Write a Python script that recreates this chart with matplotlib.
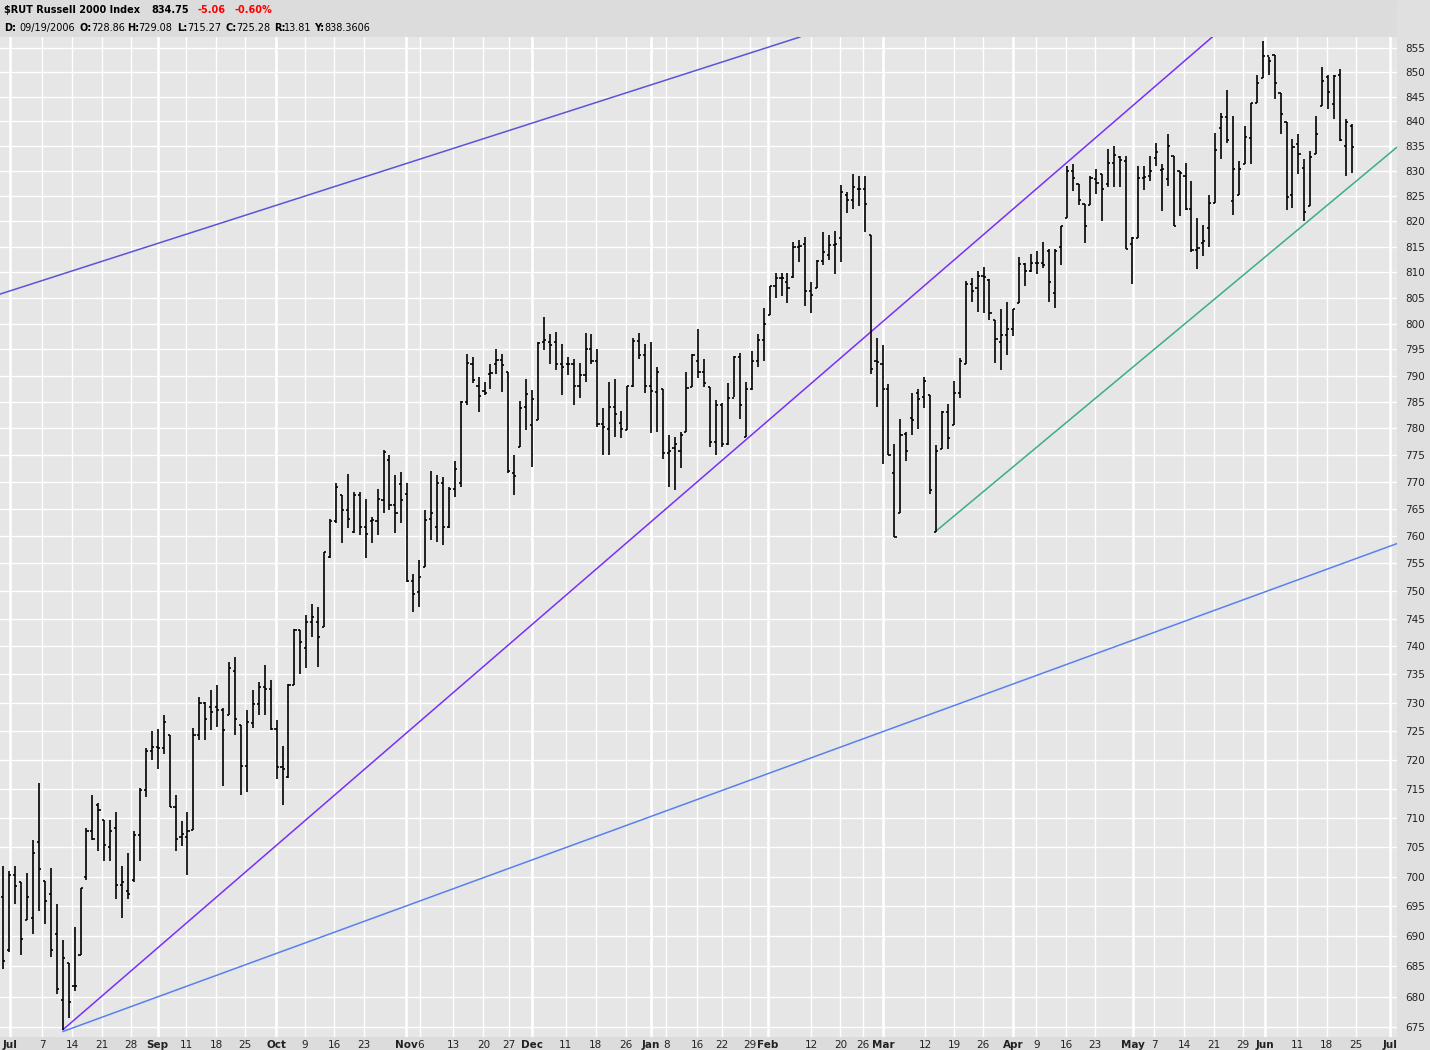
import matplotlib
matplotlib.use("Agg")
import matplotlib.pyplot as plt
from matplotlib.ticker import FixedLocator, FixedFormatter, NullLocator

# ---------------- data (daily OHLC, Jul 2006 - Jun 2007) ----------------
opens = [696.6,687.7,700.3,699.0,692.7,693.1,705.8,699.3,697.0,690.4,679.5,685.5,681.8,686.8,699.9,707.7,712.2,709.6,705.0,708.2,
         698.5,697.5,699.4,707.1,714.7,721.6,722.2,722.1,724.4,711.8,706.7,706.7,707.9,724.4,730.0,729.3,729.3,728.7,727.9,735.6,
         726.1,719.0,726.5,729.8,732.8,732.5,725.4,718.8,717.1,733.2,742.9,739.7,744.3,744.3,743.5,756.2,762.7,767.5,764.7,760.7,
         767.5,761.7,762.7,762.7,766.7,774.1,765.7,769.5,767.7,751.8,749.7,754.4,763.2,761.7,769.7,761.7,768.7,769.7,784.9,792.2,
         788.1,787.1,790.4,792.2,793.0,790.7,771.6,776.5,784.1,780.6,781.5,796.4,796.4,796.4,792.2,792.2,792.2,788.1,790.2,795.1,
         792.8,780.9,779.9,784.1,781.1,779.7,788.1,796.7,794.0,788.1,786.8,787.5,775.3,776.3,775.8,779.4,787.8,792.8,790.7,787.8,
         777.5,784.5,777.1,785.8,793.5,778.4,787.5,792.8,796.8,801.6,807.3,808.8,808.0,809.0,815.0,815.5,806.3,806.9,812.1,813.3,
         815.3,816.6,825.3,824.2,826.4,826.5,817.3,792.7,792.2,787.5,771.7,764.2,778.9,781.9,786.6,785.9,786.3,760.8,776.2,783.0,
         780.6,786.6,792.2,807.6,806.9,809.3,808.5,800.7,796.4,797.7,799.0,803.9,811.5,810.2,811.7,811.8,814.2,806.0,814.9,820.7,
         830.0,827.4,823.5,823.2,828.5,829.5,827.4,831.7,832.8,832.0,815.5,816.6,828.6,829.0,832.7,830.3,828.4,833.0,830.0,829.0,
         822.5,814.3,815.8,818.6,823.7,838.6,840.8,824.1,825.3,831.4,836.6,843.8,848.8,853.3,853.5,845.8,839.8,825.3,835.5,830.7,
         823.0,833.4,843.1,849.0,843.5,849.4,835.0,839.0]
highs = [701.8,700.9,701.8,699.0,700.6,706.2,716.0,699.3,701.4,695.3,689.4,685.6,691.6,698.0,708.2,713.9,712.6,709.7,709.6,711.0,
         701.8,704.0,707.7,715.2,722.0,725.0,725.3,727.8,724.4,713.9,709.4,711.0,725.5,731.1,730.2,732.2,733.1,729.0,737.2,738.1,
         726.1,728.7,732.2,733.7,736.6,734.1,727.0,722.4,733.4,743.2,742.9,745.6,747.7,747.1,757.1,763.2,769.7,767.5,771.5,768.1,
         768.1,766.9,763.5,768.7,775.9,775.0,771.2,771.8,769.7,753.1,755.6,764.7,772.1,771.2,770.9,769.1,773.8,785.1,794.1,793.5,
         789.7,788.8,792.2,795.1,794.1,790.7,775.0,785.1,789.4,787.2,796.4,801.2,797.9,798.3,796.1,793.5,793.2,792.5,798.2,797.9,
         795.1,783.8,788.7,789.4,783.3,788.1,797.3,798.2,796.1,796.4,791.6,787.5,778.8,778.4,779.4,790.7,794.1,798.9,793.1,787.8,
         785.4,784.8,788.5,793.8,794.4,788.7,794.7,797.9,803.0,807.3,809.9,809.9,809.9,815.9,816.2,816.8,808.0,812.3,817.8,817.2,
         818.1,827.2,825.9,829.5,829.0,829.0,817.3,797.3,795.8,788.4,777.1,781.8,779.4,786.6,787.5,789.7,786.3,776.8,783.3,784.6,
         789.0,793.4,808.3,808.9,810.3,810.9,808.7,800.7,802.8,804.1,802.8,812.9,811.7,813.6,814.2,815.9,814.5,814.5,819.0,831.1,
         831.4,827.5,823.5,829.0,830.5,829.5,834.4,835.0,833.0,833.0,816.9,831.0,831.0,833.0,835.7,831.4,837.4,833.0,830.0,831.7,
         828.0,820.6,819.3,825.3,837.7,841.8,846.3,841.1,832.0,839.1,843.8,849.5,856.5,853.2,853.5,845.8,839.8,836.4,837.4,832.4,
         834.1,841.1,851.2,849.5,849.5,850.8,840.4,839.4]
lows = [684.5,687.3,695.3,686.8,692.7,690.4,694.2,692.0,686.5,680.4,674.5,676.5,681.0,686.8,699.4,706.2,704.3,702.6,702.6,696.2,
        693.1,696.2,699.0,702.6,713.6,720.0,718.5,721.0,711.9,704.3,705.1,700.3,707.9,723.5,723.5,725.2,725.8,715.4,727.9,724.4,
        713.9,714.5,725.5,727.9,727.9,725.2,716.6,712.2,716.9,733.1,735.1,736.1,741.7,736.4,743.5,755.9,762.3,758.7,761.4,760.5,
        760.2,755.9,758.7,760.2,764.2,764.7,760.5,762.3,751.6,746.2,747.1,754.4,759.3,758.9,758.3,761.4,767.2,769.1,784.5,788.5,
        783.1,786.3,787.5,790.4,786.9,771.6,767.5,776.5,779.7,772.8,781.5,794.9,792.2,791.0,786.3,790.2,784.5,785.7,788.8,792.2,
        780.3,775.0,775.0,778.4,778.1,779.7,787.8,793.1,786.6,779.1,779.4,774.3,769.1,768.4,772.5,779.4,787.8,789.5,787.8,776.5,
        775.0,776.5,776.8,786.0,781.8,778.4,787.2,791.6,792.8,801.6,805.0,805.3,804.0,808.9,812.0,803.3,802.0,806.8,811.4,812.3,
        809.7,812.0,821.7,822.5,823.1,817.9,790.4,784.1,773.4,775.0,759.8,764.2,773.8,778.7,779.9,783.9,767.8,760.8,776.2,776.2,
        780.6,785.7,792.2,804.2,802.3,802.0,800.6,792.5,791.0,794.0,797.6,803.9,807.3,810.0,809.7,810.7,804.2,803.0,811.4,820.7,
        826.1,823.2,815.7,823.2,825.4,820.0,826.9,826.9,826.9,814.6,807.6,816.6,826.3,828.0,831.0,822.0,827.0,819.0,821.0,822.3,
        814.0,810.6,813.2,814.9,823.7,832.4,835.7,821.3,825.3,831.4,831.4,843.8,848.8,849.5,844.5,837.4,822.3,822.6,829.4,820.0,
        823.0,833.4,843.1,842.5,840.4,836.0,829.0,829.7]
closes = [685.9,700.3,698.4,689.6,696.6,704.0,701.3,695.9,687.7,681.2,686.4,679.1,681.8,698.0,707.7,706.4,711.4,705.3,707.7,698.5,
          699.0,697.0,707.1,714.7,721.6,722.2,722.1,726.7,711.9,706.3,707.3,707.7,724.4,730.0,727.2,728.4,728.7,725.2,736.2,727.1,
          718.9,726.7,729.8,732.8,732.5,725.4,718.8,718.4,733.1,742.9,740.8,744.3,745.3,741.6,757.1,762.7,769.1,764.7,763.2,767.5,
          761.7,760.3,762.9,766.9,775.6,765.7,764.3,766.7,751.8,749.5,752.5,763.0,764.2,769.7,761.7,768.7,772.3,784.9,792.5,789.1,
          786.1,786.6,790.5,793.0,792.0,772.1,771.1,783.9,786.5,785.5,796.2,796.9,795.9,792.2,791.7,792.2,788.1,790.2,795.1,792.8,
          780.9,780.2,784.1,782.8,779.9,788.1,796.7,794.0,788.1,787.1,790.7,775.3,775.8,777.0,778.7,787.6,794.0,790.7,788.5,777.5,
          784.5,777.1,785.8,793.5,784.4,787.5,792.8,796.8,799.9,807.3,808.8,808.8,806.8,815.0,815.1,806.3,805.6,812.1,814.0,815.3,
          815.5,825.8,824.3,826.8,826.5,823.4,791.2,792.6,787.5,775.0,759.8,778.7,775.7,781.5,785.6,788.9,768.4,775.7,783.0,778.2,
          786.6,792.7,807.6,806.3,809.3,809.0,802.1,797.0,797.7,799.0,802.8,811.5,810.2,811.7,811.8,811.3,808.0,814.2,819.0,830.0,
          828.7,824.2,819.0,828.7,827.6,826.4,831.7,833.3,832.3,814.6,816.6,828.6,828.9,830.0,833.8,830.5,835.0,819.1,829.6,822.5,
          814.3,814.8,816.0,823.7,834.3,841.0,836.2,830.5,830.4,836.9,843.8,847.9,853.4,852.3,847.9,841.5,824.8,834.9,833.4,821.8,
          832.8,837.4,848.2,846.0,849.2,836.3,839.8,834.8]

# trend lines: (bar index, price) endpoints
line_steep = [(10.05, 674.6), (203.5, 857.3)]
line_upper = [(-0.56, 805.7), (134.1, 857.3)]
line_lower = [(10.05, 674.3), (234.6, 758.6)]
line_green = [(157.0, 760.9), (234.6, 834.8)]

# x-axis labels (position in bar units, label)
xt_pos = [1.1, 6.5, 11.6, 16.6, 21.5, 26.0, 30.8, 35.8, 40.7, 45.9, 50.8, 55.7, 60.7, 67.8, 70.2, 75.7, 80.8, 85.1,
          89.0, 94.7, 99.7, 104.8, 109.0, 111.6, 116.8, 121.0, 125.7, 128.7, 136.0, 140.9, 144.7, 148.1, 155.2, 160.1,
          164.9, 170.0, 173.9, 178.9, 183.8, 190.2, 193.7, 198.8, 203.8, 208.7, 212.4, 217.8, 222.8, 227.7, 233.5]
xt_lab = ["Jul", "7", "14", "21", "28", "Sep", "11", "18", "25", "Oct", "9", "16", "23", "Nov", "6", "13", "20", "27",
          "Dec", "11", "18", "26", "Jan", "8", "16", "22", "29", "Feb", "12", "20", "26", "Mar", "12", "19",
          "26", "Apr", "9", "16", "23", "May", "7", "14", "21", "29", "Jun", "11", "18", "25", "Jul"]
months = {"Jul", "Sep", "Oct", "Nov", "Dec", "Jan", "Feb", "Mar", "Apr", "May", "Jun"}
y_ticks = list(range(675, 860, 5))

# ---------------- figure ----------------
W, H = 1430, 1050
fig = plt.figure(figsize=(W / 100, H / 100), dpi=100)
fig.patch.set_facecolor("#dcdcdc")
ax = fig.add_axes([0, 13 / H, 1397 / W, 1000 / H])
ax.set_facecolor("#e6e6e6")
ax.set_yscale("log")
ax.set_ylim(673.4, 857.3)
ax.set_xlim(-0.56, 234.6)

# grid
for p, l in zip(xt_pos, xt_lab):
    ax.axvline(p, color="white", lw=1.9 if l in months else 1.0, zorder=1)
for v in y_ticks:
    ax.axhline(v, color="white", lw=1.0, zorder=1)

# OHLC bars
n = len(closes)
xs = list(range(n))
tk = 0.36
ax.vlines(xs, lows, highs, color="black", lw=1.2, zorder=3)
ax.hlines(opens, [x - tk for x in xs], xs, color="black", lw=1.2, zorder=3)
ax.hlines(closes, xs, [x + tk for x in xs], color="black", lw=1.2, zorder=3)

# trend lines
def tl(pts, c):
    ax.plot([pts[0][0], pts[1][0]], [pts[0][1], pts[1][1]], color=c, lw=1.1, zorder=2)
tl(line_steep, "#7b2ff7")
tl(line_upper, "#5b55d6")
tl(line_lower, "#5a80ee")
tl(line_green, "#3aae86")

# axes styling
for s in ax.spines.values():
    s.set_visible(False)
ax.yaxis.tick_right()
ax.yaxis.set_major_locator(FixedLocator(y_ticks))
ax.yaxis.set_major_formatter(FixedFormatter([str(v) for v in y_ticks]))
ax.yaxis.set_minor_locator(NullLocator())
ax.tick_params(axis="y", length=0, pad=6, labelsize=7.5, colors="#222222")
ax.set_xticks(xt_pos)
ax.set_xticklabels(xt_lab)
ax.tick_params(axis="x", length=0, pad=2, labelsize=7.5, colors="#222222")
for t in ax.get_xticklabels():
    if t.get_text() in months:
        t.set_fontweight("bold")

# right strip
fig.patches.append(plt.Rectangle((1397 / W, 0), 33 / W, 1, transform=fig.transFigure,
                                 color="#e0e0e0", zorder=-1))

# header
def ftxt(x, y, s, bold=False, color="black"):
    fig.text(x / W, 1 - y / H, s, fontsize=7, fontweight="bold" if bold else "normal",
             color=color, va="center", ha="left", family="DejaVu Sans")
ftxt(4, 10, "$RUT Russell 2000 Index", True)
ftxt(151, 10, "834.75", True)
ftxt(197, 10, "-5.06", True, "red")
ftxt(235, 10, "-0.60%", True, "red")
parts = [(4, "D:", True), (19, "09/19/2006", False), (80, "O:", True), (91, "728.86", False),
         (127, "H:", True), (138, "729.08", False), (177, "L:", True), (187, "715.27", False),
         (225, "C:", True), (236, "725.28", False), (274, "R:", True), (284, "13.81", False),
         (314, "Y:", True), (324, "838.3606", False)]
for x, s, b in parts:
    ftxt(x, 28, s, b)

fig.savefig("out.png", dpi=100, facecolor=fig.get_facecolor())
